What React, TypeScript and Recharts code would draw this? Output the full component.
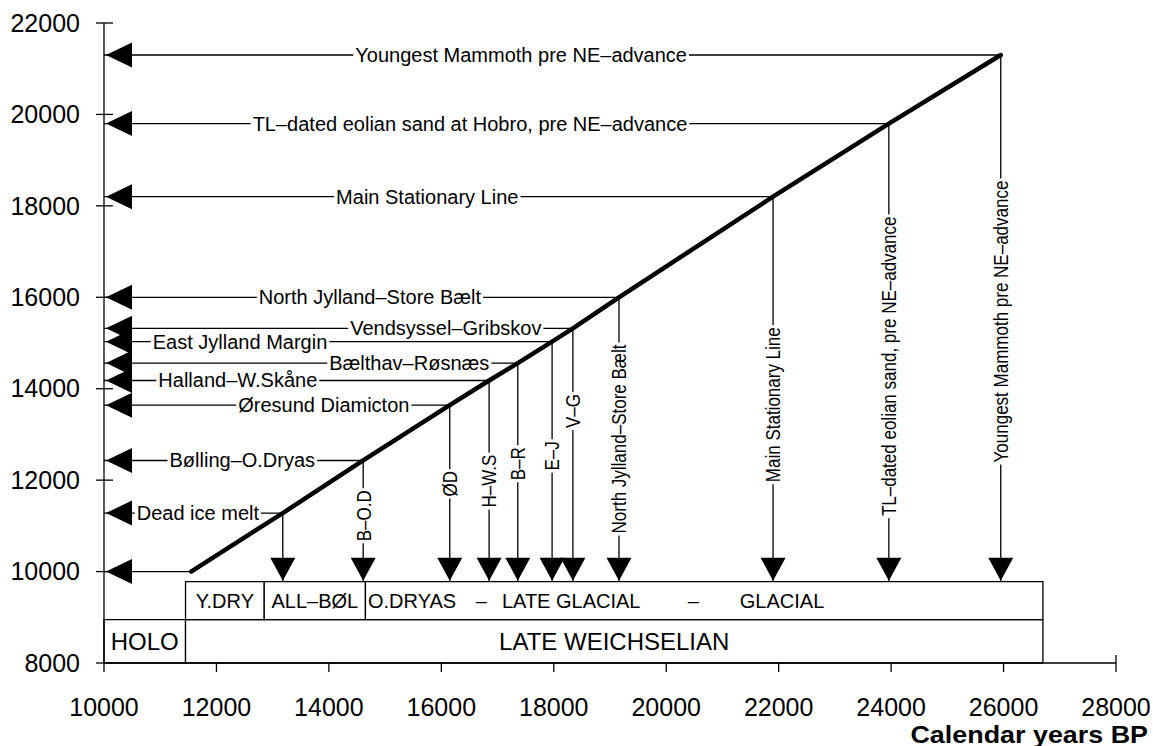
import React from "react"
import { ComposedChart, Line, Scatter, XAxis, YAxis, ReferenceArea } from "recharts"

// calibration points: calendar years BP vs 14C years BP
const calYears = [11550, 13180, 14610, 16150, 16850, 17360, 17970, 18340, 19160, 21900, 23960, 25950]
const c14Years = [10000, 11280, 12430, 13640, 14180, 14560, 15030, 15320, 16000, 18200, 19800, 21300]

const horizLabels = [
    "",
    "Dead ice melt",
    "Bølling–O.Dryas",
    "Øresund Diamicton",
    "Halland–W.Skåne",
    "Bælthav–Røsnæs",
    "East Jylland Margin",
    "Vendsyssel–Gribskov",
    "North Jylland–Store Bælt",
    "Main Stationary Line",
    "TL–dated eolian sand at Hobro, pre NE–advance",
    "Youngest Mammoth pre NE–advance",
]
const vertLabels = [
    "",
    "",
    "B–O.D",
    "ØD",
    "H–W.S",
    "B–R",
    "E–J",
    "V–G",
    "North Jylland–Store Bælt",
    "Main Stationary Line",
    "TL–dated eolian sand, pre NE–advance",
    "Youngest Mammoth pre NE–advance",
]

// where each label sits along its arrow
const horizLabelCal = [0, 11670, 12460, 13910, 12380, 15430, 12420, 16080, 14730, 15750, 16510, 17420]
const vertLabelC14 = [0, 0, 11220, 11920, 11980, 12360, 12530, 13510, 12900, 13650, 14490, 15470]

const xTicks = [10000, 12000, 14000, 16000, 18000, 20000, 22000, 24000, 26000, 28000]
const yTicks = [8000, 10000, 12000, 14000, 16000, 18000, 20000, 22000]

// chronozone boxes
const rowTops = [8950, 9780]
const lowerNames = ["HOLO", "LATE WEICHSELIAN"]
const lowerBounds = [10000, 11450, 26700]
const upperNames = ["Y.DRY", "ALL–BØL", ""]
const upperBounds = [11450, 12850, 14650, 26700]
const glacialWords = ["O.DRYAS", "–", "LATE GLACIAL", "–", "GLACIAL"]
const glacialWordCal = [15480, 16710, 18310, 20480, 22060]

const FONT = "'Liberation Sans', Arial, Helvetica, sans-serif"
const INK = "#000"
const LABEL_SIZE = 20
const V_SIZE = 21
const V_SQUEEZE = 0.81

const curve = calYears.map((x, i) => ({ x, y: c14Years[i] }))
const leftArrows = c14Years.map((y) => ({ x: xTicks[0], y }))
const downArrows = calYears.slice(1).map((x) => ({ x, y: rowTops[1] }))
const hLabelPts = horizLabels
    .map((label, i) => ({ x: horizLabelCal[i], y: c14Years[i], label }))
    .filter((d) => d.label)
const vLabelPts = vertLabels
    .map((label, i) => ({ x: calYears[i], y: vertLabelC14[i], label }))
    .filter((d) => d.label)
const wordPts = glacialWords.map((label, i) => ({
    x: glacialWordCal[i],
    y: (rowTops[0] + rowTops[1]) / 2,
    label,
}))

let measureCtx: CanvasRenderingContext2D | null = null
function textWidth(s: string, size: number) {
    if (!measureCtx) measureCtx = document.createElement("canvas").getContext("2d")
    if (!measureCtx) return s.length * size * 0.55
    measureCtx.font = `${size}px 'Liberation Sans', Arial, sans-serif`
    return measureCtx.measureText(s).width
}

const YTick = (props: any) => {
    const { x, y, payload } = props
    return (
        <g>
            <line x1={x + 16} x2={x + 33} y1={y} y2={y} stroke={INK} strokeWidth={1.3} />
            <text x={x} y={y} dy="0.35em" textAnchor="end" fontSize={25} fontFamily={FONT} fill={INK}>
                {payload.value}
            </text>
        </g>
    )
}

const XTick = (props: any) => {
    const { x, y, payload } = props
    const last = payload.value === xTicks[xTicks.length - 1]
    return (
        <g>
            <line x1={x} x2={x} y1={y - (last ? 43 : 35)} y2={y - 26} stroke={INK} strokeWidth={1.3} />
            <text x={x} y={y} dy="0.71em" textAnchor="middle" fontSize={25} fontFamily={FONT} fill={INK}>
                {payload.value}
            </text>
        </g>
    )
}

const LeftArrow = ({ cx, cy }: any) => (
    <path d={`M${cx + 2},${cy} L${cx + 28},${cy - 12.5} L${cx + 28},${cy + 12.5} Z`} fill={INK} />
)

const DownArrow = ({ cx, cy }: any) => (
    <path d={`M${cx},${cy - 1} L${cx - 12.5},${cy - 24} L${cx + 12.5},${cy - 24} Z`} fill={INK} />
)

// label sitting on its line, with a white gap cut out of the line
const HorizLabel = ({ cx, cy, payload }: any) => {
    const w = textWidth(payload.label, LABEL_SIZE) + 4
    return (
        <g>
            <rect x={cx - w / 2} y={cy - 3} width={w} height={6} fill="#fff" />
            <text x={cx} y={cy} dy="0.35em" textAnchor="middle" fontSize={LABEL_SIZE} fontFamily={FONT} fill={INK}>
                {payload.label}
            </text>
        </g>
    )
}

const VertLabel = ({ cx, cy, payload }: any) => {
    const w = textWidth(payload.label, V_SIZE) * V_SQUEEZE + 4
    return (
        <g>
            <rect x={cx - 3} y={cy - w / 2} width={6} height={w} fill="#fff" />
            <text
                transform={`translate(${cx},${cy}) rotate(-90) scale(${V_SQUEEZE},1)`}
                dy="0.35em"
                textAnchor="middle"
                fontSize={V_SIZE}
                fontFamily={FONT}
                fill={INK}
            >
                {payload.label}
            </text>
        </g>
    )
}

const BoxWord = ({ cx, cy, payload }: any) => (
    <text x={cx} y={cy} dy="0.35em" textAnchor="middle" fontSize={20} fontFamily={FONT} fill={INK}>
        {payload.label}
    </text>
)

export default function App() {
    return (
        <div style={{ position: "relative", width: 1153, height: 746 }}>
            <style>{"body{margin:0;overflow:hidden}"}</style>
            <ComposedChart width={1153} height={746} margin={{ top: 23, right: 37, left: 8, bottom: 0 }}>
                <XAxis
                    type="number"
                    dataKey="x"
                    domain={[10000, 28000]}
                    ticks={xTicks}
                    interval={0}
                    height={83}
                    tickSize={9}
                    tickMargin={26}
                    tickLine={false}
                    axisLine={{ stroke: INK, strokeWidth: 1.3 }}
                    tick={<XTick />}
                    allowDataOverflow
                />
                <YAxis
                    type="number"
                    dataKey="y"
                    domain={[8000, 22000]}
                    ticks={yTicks}
                    interval={0}
                    width={96}
                    tickSize={8}
                    tickMargin={16}
                    tickLine={false}
                    axisLine={{ stroke: INK, strokeWidth: 1.3 }}
                    tick={<YTick />}
                    allowDataOverflow
                />

                {lowerNames.map((name, i) => (
                    <ReferenceArea
                        key={`lo${i}`}
                        x1={lowerBounds[i]}
                        x2={lowerBounds[i + 1]}
                        y1={yTicks[0]}
                        y2={rowTops[0]}
                        fill="#fff"
                        fillOpacity={1}
                        stroke={INK}
                        strokeWidth={1.3}
                        ifOverflow="visible"
                        label={{ value: name, position: "center", fontSize: 24, fill: INK, fontFamily: FONT }}
                    />
                ))}
                {upperNames.map((name, i) => (
                    <ReferenceArea
                        key={`up${i}`}
                        x1={upperBounds[i]}
                        x2={upperBounds[i + 1]}
                        y1={rowTops[0]}
                        y2={rowTops[1]}
                        fill="#fff"
                        fillOpacity={1}
                        stroke={INK}
                        strokeWidth={1.3}
                        ifOverflow="visible"
                        label={name ? { value: name, position: "center", fontSize: 20, fill: INK, fontFamily: FONT } : undefined}
                    />
                ))}

                {calYears.map((cal, i) => (
                    <Line
                        key={`h${i}`}
                        data={[
                            { x: xTicks[0], y: c14Years[i] },
                            { x: cal, y: c14Years[i] },
                        ]}
                        dataKey="y"
                        stroke={INK}
                        strokeWidth={1.3}
                        dot={false}
                        activeDot={false}
                        isAnimationActive={false}
                    />
                ))}
                {calYears.slice(1).map((cal, i) => (
                    <Line
                        key={`v${i}`}
                        data={[
                            { x: cal, y: c14Years[i + 1] },
                            { x: cal, y: rowTops[1] },
                        ]}
                        dataKey="y"
                        stroke={INK}
                        strokeWidth={1.3}
                        dot={false}
                        activeDot={false}
                        isAnimationActive={false}
                    />
                ))}
                <Line
                    data={curve}
                    dataKey="y"
                    stroke={INK}
                    strokeWidth={4.5}
                    strokeLinecap="round"
                    strokeLinejoin="round"
                    dot={false}
                    activeDot={false}
                    isAnimationActive={false}
                />

                <Scatter data={leftArrows} shape={<LeftArrow />} isAnimationActive={false} />
                <Scatter data={downArrows} shape={<DownArrow />} isAnimationActive={false} />
                <Scatter data={hLabelPts} shape={<HorizLabel />} isAnimationActive={false} />
                <Scatter data={vLabelPts} shape={<VertLabel />} isAnimationActive={false} />
                <Scatter data={wordPts} shape={<BoxWord />} isAnimationActive={false} />
            </ComposedChart>
            <div
                style={{
                    position: "absolute",
                    left: 868,
                    top: 723,
                    width: 280,
                    textAlign: "right",
                    fontFamily: FONT,
                    fontWeight: "bold",
                    fontSize: 24,
                    lineHeight: 1,
                    transform: "scaleX(1.12)",
                    transformOrigin: "right",
                    whiteSpace: "nowrap",
                }}
            >
                Calendar years BP
            </div>
        </div>
    )
}
